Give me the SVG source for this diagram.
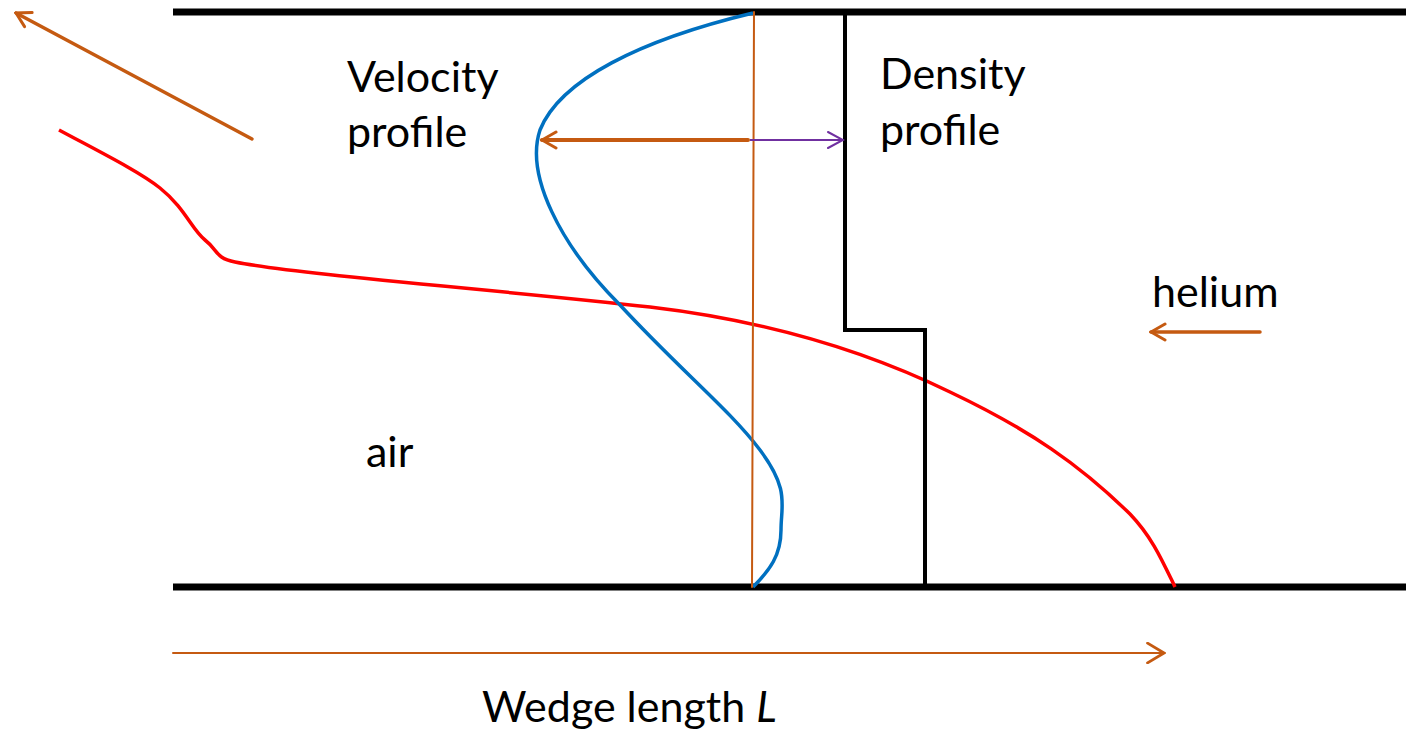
<svg xmlns="http://www.w3.org/2000/svg" width="1406" height="733" viewBox="0 0 1406 733">
<style>
.lbl{font-family:Lato,"Open Sans","Liberation Sans",sans-serif;font-size:43px;fill:#000}
.wall{stroke:#000;stroke-width:7;fill:none}
.or{stroke:#C55A11;fill:none;stroke-linecap:round}
</style>
<defs>
<marker id="ahO" viewBox="0 0 20 20" refX="18" refY="10" markerWidth="20" markerHeight="20" markerUnits="userSpaceOnUse" orient="auto">
<path d="M4,2 L18,10 L4,18" fill="none" stroke="#C55A11" stroke-width="3" stroke-linecap="round"/>
</marker>
<marker id="ahOs" viewBox="0 0 20 20" refX="18" refY="10" markerWidth="22" markerHeight="22" markerUnits="userSpaceOnUse" orient="auto">
<path d="M3,1 L18,10 L3,19" fill="none" stroke="#C55A11" stroke-width="2.5" stroke-linecap="round"/>
</marker>
<marker id="ahP" viewBox="0 0 20 20" refX="18" refY="10" markerWidth="20" markerHeight="20" markerUnits="userSpaceOnUse" orient="auto">
<path d="M3,2 L18,10 L3,18" fill="none" stroke="#7030A0" stroke-width="2" stroke-linecap="round"/>
</marker>
</defs>
<rect width="1406" height="733" fill="#fff"/>
<g id="walls">
<line class="wall" x1="173" y1="12" x2="1406" y2="12"/>
<line class="wall" x1="173" y1="587" x2="1406" y2="587"/>
</g>
<g id="red-interface">
<path d="M59,130 C100,152 140,172 160,188 C185,208 192,230 205,240 C218,250 215,258 235,262 C300,275 500,290 650,307 C760,320 860,348 950,392 C1030,430 1080,465 1130,514 C1152,537 1162,560 1175,587" fill="none" stroke="#FF0000" stroke-width="3.5"/>
</g>
<g id="velocity-profile">
<path d="M753,13 C640,40 560,80 540,130 C525,175 560,245 620,305 C680,370 730,410 760,450 C790,490 781,505 781,530 C781,555 770,570 753,587" fill="none" stroke="#0070C0" stroke-width="3.5"/>
</g>
<g id="density-profile">
<path d="M845,14 L845,330 L925,330 L925,585" fill="none" stroke="#000" stroke-width="4"/>
</g>
<g id="connectors">
<line class="or" x1="754" y1="12" x2="752" y2="587" stroke-width="2"/>
<line class="or" x1="252" y1="139" x2="16" y2="13" stroke-width="3.5" marker-end="url(#ahO)"/>
<line class="or" x1="748" y1="140" x2="542" y2="140" stroke-width="4" marker-end="url(#ahO)"/>
<line x1="750" y1="140" x2="843" y2="140" stroke="#7030A0" stroke-width="2" marker-end="url(#ahP)"/>
<line class="or" x1="1260" y1="332" x2="1151" y2="332" stroke-width="3.5" marker-end="url(#ahO)"/>
<line class="or" x1="173" y1="653" x2="1164" y2="653" stroke-width="2" marker-end="url(#ahOs)"/>
</g>
<g id="labels">
<text class="lbl" x="347" y="92">Velocity</text>
<text class="lbl" x="347" y="147">profile</text>
<text class="lbl" x="880" y="89">Density</text>
<text class="lbl" x="880" y="145">profile</text>
<text class="lbl" x="1152" y="307">helium</text>
<text class="lbl" x="366" y="467">air</text>
<text class="lbl" x="482" y="722">Wedge length <tspan font-style="italic">L</tspan></text>
</g>
</svg>
